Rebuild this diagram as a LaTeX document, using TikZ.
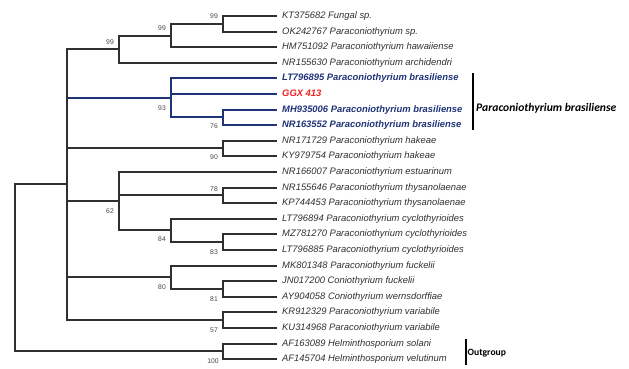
\documentclass[tikz,border=0pt]{standalone}
\usepackage{fontspec}
\setmainfont{Liberation Sans}
\newfontfamily\cladefont{Carlito}
\usepackage{tikz}
\definecolor{branchgray}{HTML}{303030}
\definecolor{brasblue}{HTML}{1F3377}
\definecolor{isolatered}{HTML}{F02020}
\definecolor{bootgray}{HTML}{454545}
\tikzset{
    %Define style for tip labels
    taxon/.style={
           anchor=west,
           inner xsep=5pt, inner ysep=0pt,
           text height=7pt, text depth=2pt,
           font=\fontsize{9.4}{11}\selectfont\itshape,
           text=branchgray},
    brastaxon/.style={
           taxon,
           font=\fontsize{9.4}{11}\selectfont\bfseries\itshape,
           text=brasblue},
    isolate/.style={
           taxon,
           font=\fontsize{9.4}{11}\selectfont\bfseries\itshape,
           text=isolatered},
    %Define style for bootstrap values
    boot/.style={
           inner sep=0pt,
           font=\fontsize{6.8}{7}\selectfont,
           text=bootgray},
    %Define style for clade names
    clade/.style={
           anchor=west,
           inner xsep=1pt, inner ysep=0pt,
           font=\cladefont\fontsize{10.4}{12}\selectfont\bfseries},
    % Define branch style
    elbow/.style={to path={|- (\tikztotarget)}},
    branch/.style={draw=branchgray, line width=1.5pt},
    brasbranch/.style={draw=brasblue, line width=1.5pt},
    cladebar/.style={draw=black, line width=1.5pt}
}
\begin{document}
\begin{tikzpicture}[x=1pt,y=-1pt]
\useasboundingbox (0,0) rectangle (629,368);
 %tips
\node[taxon](KT375682) at (277,16){KT375682 Fungal sp.};
\node[taxon](OK242767) at (277,32){OK242767 Paraconiothyrium sp.};
\node[taxon](HM751092) at (277,47){HM751092 Paraconiothyrium hawaiiense};
\node[taxon](NR155630) at (277,63){NR155630 Paraconiothyrium archidendri};
\node[brastaxon](LT796895) at (277,78){LT796895 Paraconiothyrium brasiliense};
\node[isolate](GGX413) at (277,94){GGX 413};
\node[brastaxon](MH935006) at (277,110){MH935006 Paraconiothyrium brasiliense};
\node[brastaxon](NR163552) at (277,125){NR163552 Paraconiothyrium brasiliense};
\node[taxon](NR171729) at (277,141){NR171729 Paraconiothyrium hakeae};
\node[taxon](KY979754) at (277,156){KY979754 Paraconiothyrium hakeae};
\node[taxon](NR166007) at (277,172){NR166007 Paraconiothyrium estuarinum};
\node[taxon](NR155646) at (277,188){NR155646 Paraconiothyrium thysanolaenae};
\node[taxon](KP744453) at (277,203){KP744453 Paraconiothyrium thysanolaenae};
\node[taxon](LT796894) at (277,219){LT796894 Paraconiothyrium cyclothyrioides};
\node[taxon](MZ781270) at (277,234){MZ781270 Paraconiothyrium cyclothyrioides};
\node[taxon](LT796885) at (277,250){LT796885 Paraconiothyrium cyclothyrioides};
\node[taxon](MK801348) at (277,266){MK801348 Paraconiothyrium fuckelii};
\node[taxon](JN017200) at (277,281){JN017200 Coniothyrium fuckelii};
\node[taxon](AY904058) at (277,297){AY904058 Coniothyrium wernsdorffiae};
\node[taxon](KR912329) at (277,312){KR912329 Paraconiothyrium variabile};
\node[taxon](KU314968) at (277,328){KU314968 Paraconiothyrium variabile};
\node[taxon](AF163089) at (277,344){AF163089 Helminthosporium solani};
\node[taxon](AF145704) at (277,359){AF145704 Helminthosporium velutinum};
 %internal nodes
\coordinate (n1) at (223,24);
\coordinate (n2) at (171,36);
\coordinate (n3) at (119,49);
\coordinate (n4) at (223,117);
\coordinate (n5) at (171,98);
\coordinate (n6) at (223,148);
\coordinate (n7) at (223,195);
\coordinate (n8) at (223,242);
\coordinate (n9) at (171,230);
\coordinate (n10) at (119,201);
\coordinate (n11) at (223,289);
\coordinate (n12) at (171,277);
\coordinate (n13) at (223,320);
\coordinate (n14) at (67,184);
\coordinate (n15) at (223,351);
\coordinate (root) at (15,267);
 %branches
\path[brasbranch]
    (n14) edge[elbow] (n5)
    (n5) edge[elbow] (LT796895.west) edge[elbow] (GGX413.west) edge[elbow] (n4)
    (n4) edge[elbow] (MH935006.west) edge[elbow] (NR163552.west);
\path[branch]
    (root) edge[elbow] (n14) edge[elbow] (n15)
    (n14) edge[elbow] (n3) edge[elbow] (n6) edge[elbow] (n10) edge[elbow] (n12) edge[elbow] (n13)
    (n3) edge[elbow] (n2) edge[elbow] (NR155630.west)
    (n2) edge[elbow] (n1) edge[elbow] (HM751092.west)
    (n1) edge[elbow] (KT375682.west) edge[elbow] (OK242767.west)
    (n6) edge[elbow] (NR171729.west) edge[elbow] (KY979754.west)
    (n10) edge[elbow] (NR166007.west) edge[elbow] (n7) edge[elbow] (n9)
    (n7) edge[elbow] (NR155646.west) edge[elbow] (KP744453.west)
    (n9) edge[elbow] (LT796894.west) edge[elbow] (n8)
    (n8) edge[elbow] (MZ781270.west) edge[elbow] (LT796885.west)
    (n12) edge[elbow] (MK801348.west) edge[elbow] (n11)
    (n11) edge[elbow] (JN017200.west) edge[elbow] (AY904058.west)
    (n13) edge[elbow] (KR912329.west) edge[elbow] (KU314968.west)
    (n15) edge[elbow] (AF163089.west) edge[elbow] (AF145704.west);
 %bootstrap values
\node[boot](b1) at (214,16){99};
\node[boot](b2) at (162,28){99};
\node[boot](b3) at (110,42){99};
\node[boot](b4) at (162,108){93};
\node[boot](b5) at (214,126){76};
\node[boot](b6) at (214,157){90};
\node[boot](b7) at (214,189){78};
\node[boot](b8) at (110,211){62};
\node[boot](b9) at (162,239){84};
\node[boot](b10) at (214,252){83};
\node[boot](b11) at (162,287){80};
\node[boot](b12) at (214,299){81};
\node[boot](b13) at (214,330){57};
\node[boot](b14) at (213,361){100};
 %clades
\coordinate (brasTop) at (473,73);
\coordinate (brasBot) at (473,130);
\coordinate (outTop) at (466,339);
\coordinate (outBot) at (466,365);
\draw[cladebar] (brasTop) -- (brasBot);
\draw[cladebar] (outTop) -- (outBot);
\node[clade, font=\cladefont\fontsize{11.6}{13}\selectfont\bfseries\itshape](brasname) at (475,108){Paraconiothyrium brasiliense};
\node[clade, font=\cladefont\fontsize{9.6}{12}\selectfont\bfseries](outname) at (466.5,353){Outgroup};
\end{tikzpicture}
\end{document}
